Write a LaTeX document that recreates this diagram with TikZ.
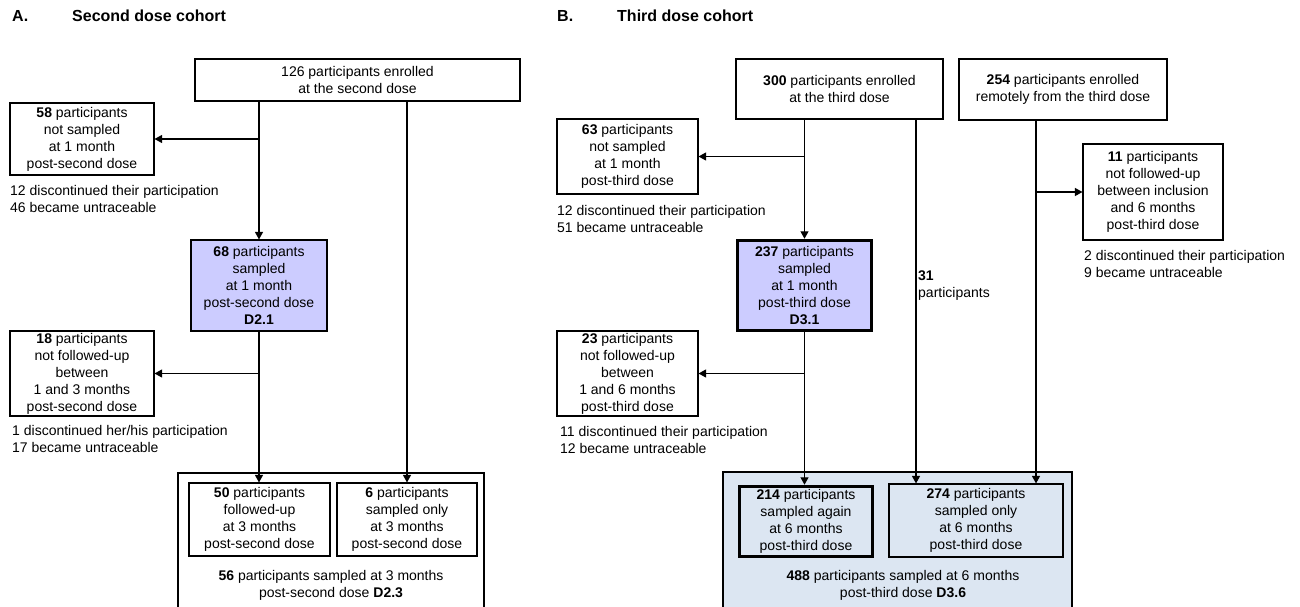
\documentclass[tikz,border=0pt]{standalone}
\usepackage{fontspec}
\setmainfont{Liberation Sans}
\usetikzlibrary{arrows.meta}
\definecolor{lav}{RGB}{204,204,255}
\definecolor{lblue}{RGB}{220,230,242}
\begin{document}
\begin{tikzpicture}[x=1pt,y=-1pt,
 box/.style={draw, line width=1.1pt, inner sep=0pt, align=center, font=\fontsize{14}{17}\selectfont},
 thickbox/.style={box, line width=3.5pt},
 txt/.style={inner sep=0pt, align=center, font=\fontsize{14}{17}\selectfont},
 note/.style={inner sep=0pt, align=left, anchor=west, font=\fontsize{14}{17}\selectfont},
 ttl/.style={inner sep=0pt, anchor=west, font=\fontsize{16}{19}\selectfont\bfseries},
 arr/.style={line width=1.2pt, -{Triangle[length=7.5pt,width=8pt]}}]
\useasboundingbox (0,0) rectangle (1300,607);

% titles
\node[ttl] (tA) at (12,16) {A.};
\node[ttl] (tAt) at (72,16) {Second dose cohort};
\node[ttl] (tB) at (557,16) {B.};
\node[ttl] (tBt) at (617,16) {Third dose cohort};

% ---------------- A ----------------
\node[draw, line width=1.1pt, minimum width=306pt, minimum height=144pt, inner sep=0pt] (aout) at (331,545) {};
\node[box, minimum width=325pt, minimum height=42pt] (a0) at (357.5,80) {126 participants enrolled\\at the second dose};
\node[box, minimum width=144pt, minimum height=72pt] (a1) at (82,139) {\textbf{58} participants\\not sampled\\at 1 month\\post-second dose};
\node[note] (n1) at (10,198.5) {12 discontinued their participation\\46 became untraceable};
\node[box, fill=lav, minimum width=136pt, minimum height=91pt] (a2) at (259,285.5) {\textbf{68} participants\\sampled\\at 1 month\\post-second dose\\\textbf{D2.1}};
\node[box, minimum width=144pt, minimum height=85pt] (a3) at (82,373.5) {\textbf{18} participants\\not followed-up\\between\\1 and 3 months\\post-second dose};
\node[note] (n2) at (12,439) {1 discontinued her/his participation\\17 became untraceable};
\node[box, minimum width=141pt, minimum height=73pt] (a4) at (259.5,519.5) {\textbf{50} participants\\followed-up\\at 3 months\\post-second dose};
\node[box, minimum width=140pt, minimum height=73pt] (a5) at (407,519.5) {\textbf{6} participants\\sampled only\\at 3 months\\post-second dose};
\node[txt] (aT) at (331,585) {\textbf{56} participants sampled at 3 months\\post-second dose \textbf{D2.3}};

\draw[arr] (a2.north |- a0.south) -- (a2.north);
\draw[arr] (a2.north |- a1.east) -- (a1.east);
\draw[arr] (a5.north |- a0.south) -- (a5.north);
\draw[arr] (a2.south) -- (a2.south |- a4.north);
\draw[arr] (a2.south |- a3.east) -- (a3.east);

% ---------------- B ----------------
\node[draw, line width=1.1pt, fill=lblue, minimum width=349pt, minimum height=144pt, inner sep=0pt] (bout) at (897.5,544) {};
\node[box, minimum width=207pt, minimum height=60pt] (b0) at (839.5,89) {\textbf{300} participants enrolled\\at the third dose};
\node[box, minimum width=208pt, minimum height=61pt] (b1) at (1063,89.5) {\textbf{254} participants enrolled\\remotely from the third dose};
\node[box, minimum width=141pt, minimum height=75pt] (b2) at (627.5,156.5) {\textbf{63} participants\\not sampled\\at 1 month\\post-third dose};
\node[note] (n3) at (557,218.5) {12 discontinued their participation\\51 became untraceable};
\node[thickbox, fill=lav, minimum width=134pt, minimum height=90pt] (b3) at (804.5,285.5) {\textbf{237} participants\\sampled\\at 1 month\\post-third dose\\\textbf{D3.1}};
\node[box, minimum width=141pt, minimum height=85pt] (b4) at (627.5,373.5) {\textbf{23} participants\\not followed-up\\between\\1 and 6 months\\post-third dose};
\node[note] (n4) at (560,440) {11 discontinued their participation\\12 became untraceable};
\node[box, minimum width=140pt, minimum height=96pt] (b5) at (1153,192) {\textbf{11} participants\\not followed-up\\between inclusion\\and 6 months\\post-third dose};
\node[note] (n5) at (1084,263.5) {2 discontinued their participation\\9 became untraceable};
\node[thickbox, minimum width=133pt, minimum height=70pt] (b6) at (806,521.5) {\textbf{214} participants\\sampled again\\at 6 months\\post-third dose};
\node[box, minimum width=174pt, minimum height=73pt] (b7) at (976,520.5) {\textbf{274} participants\\sampled only\\at 6 months\\post-third dose};
\node[txt] (bT) at (903,585) {\textbf{488} participants sampled at 6 months\\post-third dose \textbf{D3.6}};
\node[note] (l31) at (918,286) {\textbf{31}\\participants};

\coordinate (xa) at (916,300);
\coordinate (xb) at (1036,300);
\draw[arr] (b3.north |- b0.south) -- (b3.north);
\draw[arr] (b3.north |- b2.east) -- (b2.east);
\draw[arr] (xa |- b0.south) -- (xa |- b7.north);
\draw[arr] (b3.south) -- (b3.south |- b6.north);
\draw[arr] (b3.south |- b4.east) -- (b4.east);
\draw[arr] (xb |- b1.south) -- (xb |- b7.north);
\draw[arr] (xb |- b5.west) -- (b5.west);
\end{tikzpicture}
\end{document}
